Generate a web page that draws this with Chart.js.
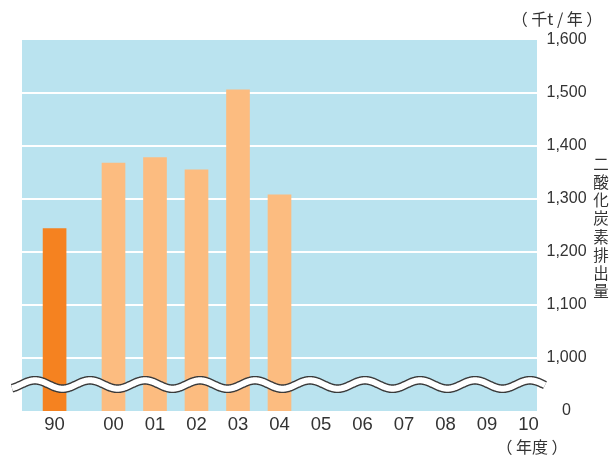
<!DOCTYPE html>
<html><head><meta charset="utf-8">
<script src="https://cdn.jsdelivr.net/npm/chart.js@4"></script>
<style>html,body{margin:0;padding:0;background:#fff}#wrap{width:613px;height:456px;position:relative}</style>
</head><body>
<div id="wrap"><canvas id="c"></canvas></div>
<script>
// ---- data ----
const categories = ['90','00','01','02','03','04','05','06','07','08','09','10'];
const emissions = [1244, 1368, 1378, 1355, 1506, 1308, null, null, null, null, null, null];
const yTickValues = [900, 1000, 1100, 1200, 1300, 1400, 1500, 1600];
const yTickLabels = ['0', '1,000', '1,100', '1,200', '1,300', '1,400', '1,500', '1,600'];
const unitLabel = '（ 千t / 年 ）';
const xUnitLabel = '（ 年度 ）';
const yTitle = '二酸化炭素排出量';

// ---- layout / style ----
const BASE_GAP = 1.42;            // base year sits further left
const xPos = categories.map((c, i) => i === 0 ? -BASE_GAP : i - 1);
const TXT = '#333333';
const LATIN = "'Liberation Sans', Arial, sans-serif";
const CJK = "'Noto Sans CJK JP', sans-serif";
const BG = '#BAE3EF';
const DARK = '#F58220';
const LIGHT = '#FCBC80';

const bgPlugin = {
  id: 'bg',
  beforeDraw(chart) {
    const {ctx, chartArea: a} = chart;
    ctx.save();
    ctx.fillStyle = BG;
    ctx.fillRect(a.left, a.top, a.right - a.left, a.bottom - a.top);
    ctx.restore();
  }
};

const wavePlugin = {
  id: 'wave',
  afterDatasetsDraw(chart) {
    const {ctx} = chart;
    const yc = chart.scales.y.getPixelForValue(950);
    const P = 55, A = 4.2, crest = 530, x0 = 12, x1 = 545;
    const path = () => {
      ctx.beginPath();
      for (let x = x0; x <= x1; x += 0.5) {
        const y = yc - A * Math.cos(2 * Math.PI * (x - crest) / P);
        if (x === x0) ctx.moveTo(x, y); else ctx.lineTo(x, y);
      }
    };
    ctx.save();
    ctx.lineCap = 'butt';
    path(); ctx.strokeStyle = '#3a3a3a'; ctx.lineWidth = 8.8; ctx.stroke();
    path(); ctx.strokeStyle = '#ffffff'; ctx.lineWidth = 6; ctx.stroke();
    ctx.restore();
  }
};

const textPlugin = {
  id: 'texts',
  afterDraw(chart) {
    const {ctx} = chart;
    ctx.save();
    ctx.fillStyle = TXT;
    ctx.textAlign = 'center';
    ctx.textBaseline = 'middle';
    ctx.font = "16px " + CJK;
    ctx.fillText(unitLabel, 557, 19);
    ctx.fillText(xUnitLabel, 532, 447);
    ctx.font = "15.5px " + CJK;
    const chars = Array.from(yTitle);
    chars.forEach((ch, i) => ctx.fillText(ch, 601, 164 + i * 18.2));
    ctx.restore();
  }
};

new Chart(document.getElementById('c'), {
  type: 'bar',
  data: {
    datasets: [{
      data: categories.map((c, i) => ({x: xPos[i], y: emissions[i]})),
      backgroundColor: categories.map((c, i) => i === 0 ? DARK : LIGHT),
      barThickness: 23,
      borderWidth: 0
    }]
  },
  options: {
    responsive: true,
    maintainAspectRatio: false,
    animation: false,
    layout: {padding: {left: 22, top: 40, right: 0, bottom: 0}},
    plugins: {legend: {display: false}, tooltip: {enabled: false}},
    scales: {
      x: {
        type: 'linear',
        offset: false,
        min: -2.205, max: 10.205,
        grid: {display: false, drawTicks: false, offset: false},
        border: {display: false},
        afterBuildTicks: s => { s.ticks = xPos.map(v => ({value: v})); },
        afterFit: s => { s.height = 45; },
        ticks: {
          autoSkip: false, maxRotation: 0, padding: 3,
          color: TXT, font: {family: LATIN, size: 18.5},
          callback: (v, i) => categories[i]
        }
      },
      y: {
        position: 'right',
        min: 900, max: 1600,
        beginAtZero: false,
        grid: {
          drawTicks: false,
          lineWidth: 2,
          color: c => (c.tick && (c.tick.value === 900 || c.tick.value === 1600)) ? 'rgba(0,0,0,0)' : '#ffffff'
        },
        border: {display: false},
        afterBuildTicks: s => { s.ticks = yTickValues.map(v => ({value: v})); },
        afterFit: s => { s.width = 76; },
        ticks: {
          crossAlign: 'center', padding: 9.5,
          color: TXT, font: {family: LATIN, size: 16},
          callback: (v, i) => yTickLabels[i]
        }
      }
    }
  },
  plugins: [bgPlugin, wavePlugin, textPlugin]
});
</script>
</body></html>
